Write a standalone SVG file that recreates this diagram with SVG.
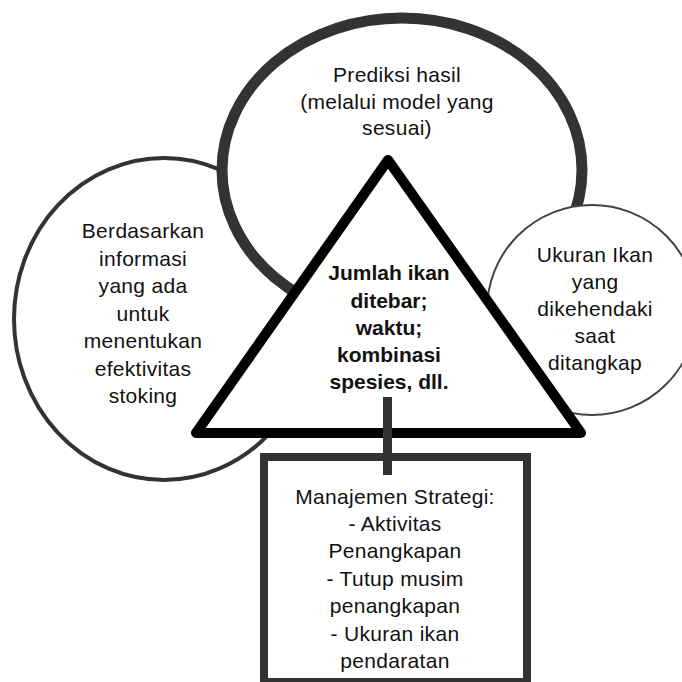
<svg xmlns="http://www.w3.org/2000/svg" width="682" height="682" viewBox="0 0 682 682">
<style>
.t{font-family:"Liberation Sans",Arial,sans-serif;font-size:21px;fill:#111;text-anchor:middle;letter-spacing:0.3px}
.b{font-weight:bold;letter-spacing:0}
.shape{fill:#fff}
</style>
<rect width="682" height="682" fill="#fff"/>
<g id="left-node">
<ellipse class="shape" cx="164" cy="319" rx="150" ry="161" stroke="#333" stroke-width="4"/>
</g>
<g id="top-node">
<ellipse class="shape" cx="402" cy="170" rx="180" ry="152" stroke="#333" stroke-width="11"/>
<text class="t" x="397" y="82">Prediksi hasil</text>
<text class="t" x="397" y="109">(melalui model yang</text>
<text class="t" x="397" y="135">sesuai)</text>
</g>
<g id="right-node">
<circle class="shape" cx="592" cy="310" r="105" stroke="#444" stroke-width="2"/>
<text class="t" x="595" y="262">Ukuran Ikan</text>
<text class="t" x="595" y="289">yang</text>
<text class="t" x="595" y="316">dikehendaki</text>
<text class="t" x="595" y="343">saat</text>
<text class="t" x="595" y="370">ditangkap</text>
</g>
<g id="left-text">
<text class="t" x="143" y="238">Berdasarkan</text>
<text class="t" x="143" y="266">informasi</text>
<text class="t" x="143" y="293">yang ada</text>
<text class="t" x="143" y="321">untuk</text>
<text class="t" x="143" y="348">menentukan</text>
<text class="t" x="143" y="376">efektivitas</text>
<text class="t" x="143" y="403">stoking</text>
</g>
<g id="center-node">
<polygon class="shape" points="388,160 196,433 581,433" stroke="#000" stroke-width="10" stroke-linejoin="round"/>
<text class="t b" x="389" y="280">Jumlah ikan</text>
<text class="t b" x="389" y="308">ditebar;</text>
<text class="t b" x="389" y="335">waktu;</text>
<text class="t b" x="389" y="362">kombinasi</text>
<text class="t b" x="389" y="389">spesies, dll.</text>
</g>
<g id="strategy-node">
<rect class="shape" x="264" y="457" width="263" height="225" stroke="#333" stroke-width="8"/>
<text class="t" x="395" y="504">Manajemen Strategi:</text>
<text class="t" x="395" y="531">- Aktivitas</text>
<text class="t" x="395" y="558">Penangkapan</text>
<text class="t" x="395" y="586">- Tutup musim</text>
<text class="t" x="395" y="613">penangkapan</text>
<text class="t" x="395" y="641">- Ukuran ikan</text>
<text class="t" x="395" y="668">pendaratan</text>
</g>
<g id="connectors">
<line x1="387.5" y1="397" x2="387.5" y2="475" stroke="#333" stroke-width="9"/>
</g>
</svg>
